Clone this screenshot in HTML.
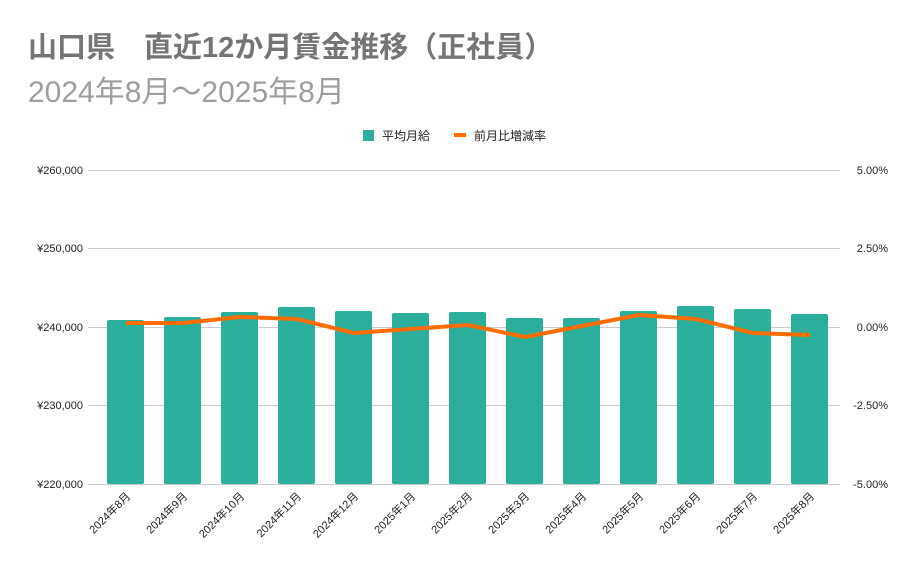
<!DOCTYPE html>
<html><head><meta charset="utf-8"><style>
body{margin:0;background:#fff;}
svg text{font-family:"Liberation Sans","Noto Sans CJK JP",sans-serif;}
</style></head><body>
<svg width="921" height="570" xmlns="http://www.w3.org/2000/svg">
<rect width="921" height="570" fill="#fff"/>
<text x="28" y="57" font-size="29" font-weight="bold" fill="#757575">山口県　直近12か月賃金推移（正社員）</text>
<text x="28" y="102" font-size="30" fill="#9e9e9e">2024年8月～2025年8月</text>
<rect x="363" y="130" width="11" height="11" fill="#2bae9c"/>
<text x="382" y="140" font-size="12" fill="#222">平均月給</text>
<rect x="454" y="133" width="12" height="4" fill="#ff6d00"/>
<text x="474" y="140" font-size="12" fill="#222">前月比増減率</text>
<g stroke="#cccccc" stroke-width="1">
<line x1="88" y1="170.5" x2="840" y2="170.5"/>
<line x1="88" y1="248.5" x2="840" y2="248.5"/>
<line x1="88" y1="327.5" x2="840" y2="327.5"/>
<line x1="88" y1="405.5" x2="840" y2="405.5"/>
<line x1="88" y1="484.5" x2="840" y2="484.5"/>
</g>
<g font-size="11" fill="#222" text-anchor="end">
<text x="83" y="174">¥260,000</text><text x="83" y="252">¥250,000</text><text x="83" y="331">¥240,000</text><text x="83" y="409">¥230,000</text><text x="83" y="488">¥220,000</text>
</g>
<g font-size="11" fill="#222" text-anchor="end">
<text x="888" y="174">5.00%</text><text x="888" y="252">2.50%</text><text x="888" y="331">0.00%</text><text x="888" y="409">-2.50%</text><text x="888" y="488">-5.00%</text>
</g>
<g fill="#2bae9c">
<rect x="107" y="320" width="37" height="164" rx="2"/>
<rect x="164" y="317" width="37" height="167" rx="2"/>
<rect x="221" y="312" width="37" height="172" rx="2"/>
<rect x="278" y="307" width="37" height="177" rx="2"/>
<rect x="335" y="311" width="37" height="173" rx="2"/>
<rect x="392" y="313" width="37" height="171" rx="2"/>
<rect x="449" y="312" width="37" height="172" rx="2"/>
<rect x="506" y="318" width="37" height="166" rx="2"/>
<rect x="563" y="318" width="37" height="166" rx="2"/>
<rect x="620" y="311" width="37" height="173" rx="2"/>
<rect x="677" y="306" width="37" height="178" rx="2"/>
<rect x="734" y="309" width="37" height="175" rx="2"/>
<rect x="791" y="314" width="37" height="170" rx="2"/>
</g>
<polyline fill="none" stroke="#ff6d00" stroke-width="4" stroke-linejoin="round" points="126,323 183,323 240,317 297,319 354,333 411,329 468,325 525,337 582,326 639,315 696,319 753,333 810,335"/>
<g font-size="11" fill="#222" text-anchor="end">
<text transform="translate(131,497) rotate(-45)">2024年8月</text>
<text transform="translate(188,497) rotate(-45)">2024年9月</text>
<text transform="translate(245,497) rotate(-45)">2024年10月</text>
<text transform="translate(302,497) rotate(-45)">2024年11月</text>
<text transform="translate(359,497) rotate(-45)">2024年12月</text>
<text transform="translate(416,497) rotate(-45)">2025年1月</text>
<text transform="translate(473,497) rotate(-45)">2025年2月</text>
<text transform="translate(530,497) rotate(-45)">2025年3月</text>
<text transform="translate(587,497) rotate(-45)">2025年4月</text>
<text transform="translate(644,497) rotate(-45)">2025年5月</text>
<text transform="translate(701,497) rotate(-45)">2025年6月</text>
<text transform="translate(758,497) rotate(-45)">2025年7月</text>
<text transform="translate(815,497) rotate(-45)">2025年8月</text>
</g>
</svg>
</body></html>
